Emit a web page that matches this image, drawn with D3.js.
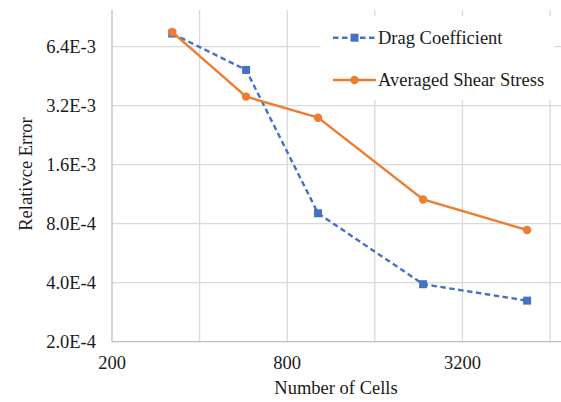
<!DOCTYPE html>
<html>
<head>
<meta charset="utf-8">
<script src="https://cdn.jsdelivr.net/npm/d3@7"></script>
<style>
  html, body { margin: 0; padding: 0; background: #fff; }
  svg { display: block; }
</style>
</head>
<body>
<svg id="chart" width="561" height="402"></svg>
<script>
// Mesh sizes (number of cells) and relative errors for each quantity
const cells = [322, 578, 1021, 2345, 5340];
const dragError = [7.47e-3, 4.87e-3, 9.04e-4, 3.93e-4, 3.24e-4];
const shearError = [7.6e-3, 3.56e-3, 2.78e-3, 1.063e-3, 7.43e-4];

const xGridValues = [200, 400, 800, 1600, 3200, 6400];
const xTickLabels = [200, 800, 3200];
const yTickValues = [2.0e-4, 4.0e-4, 8.0e-4, 1.6e-3, 3.2e-3, 6.4e-3];
const yTickLabels = ["2.0E-4", "4.0E-4", "8.0E-4", "1.6E-3", "3.2E-3", "6.4E-3"];

const seriesNames = ["Drag Coefficient", "Averaged Shear Stress"];
const colors = ["#4472C4", "#ED7D31"];

const FONT = "'Times New Roman', 'Liberation Serif', Tinos, 'Noto Serif', serif";
const FS = 18.5;
const TEXT = "#1a1a1a";
const plot = { left: 112, right: 561, top: 10, bottom: 341.7 };

const svg = d3.select("#chart")
  .attr("font-family", FONT)
  .attr("font-size", FS);

const x = d3.scaleLog().base(2).domain([200, 6400]).range([plot.left, 550]);
const y = d3.scaleLog().base(2).domain([2e-4, 6.4e-3]).range([plot.bottom, 46.7]);

function label(sel) {
  return sel.style("font-family", FONT).attr("font-size", FS).attr("fill", TEXT);
}

// Gridlines
const grid = svg.append("g").attr("stroke", "#D9D9D9").attr("stroke-width", 1.3);
grid.selectAll("line.v").data(xGridValues.slice(1)).join("line")
  .attr("x1", d => x(d)).attr("x2", d => x(d))
  .attr("y1", plot.top).attr("y2", plot.bottom);
grid.selectAll("line.h").data(yTickValues.slice(1)).join("line")
  .attr("x1", plot.left).attr("x2", plot.right)
  .attr("y1", d => y(d)).attr("y2", d => y(d));

// Axis lines
const axisG = svg.append("g").attr("stroke", "#BFBFBF").attr("stroke-width", 1.3);
axisG.append("line").attr("x1", plot.left).attr("x2", plot.left).attr("y1", plot.top).attr("y2", plot.bottom);
axisG.append("line").attr("x1", plot.left).attr("x2", plot.right).attr("y1", plot.bottom).attr("y2", plot.bottom);

// Tick labels
svg.append("g").selectAll("text").data(yTickValues).join("text")
  .attr("x", 96).attr("y", d => y(d)).attr("dy", "0.35em")
  .attr("text-anchor", "end").call(label)
  .text((d, i) => yTickLabels[i]);

svg.append("g").selectAll("text").data(xTickLabels).join("text")
  .attr("x", d => x(d)).attr("y", 369)
  .attr("text-anchor", "middle").call(label)
  .text(d => d);

// Axis titles
svg.append("text").attr("x", 336).attr("y", 394).attr("text-anchor", "middle")
  .call(label).text("Number of Cells");
svg.append("text").attr("transform", "translate(32,174) rotate(-90)")
  .attr("text-anchor", "middle").call(label)
  .text("Relativce Error");

// Series
const series = [dragError, shearError];
const line = d3.line().x(d => x(d[0])).y(d => y(d[1]));

series.forEach((vals, s) => {
  const pts = cells.map((c, i) => [c, vals[i]]);
  svg.append("path").datum(pts)
    .attr("d", line).attr("fill", "none")
    .attr("stroke", colors[s]).attr("stroke-width", 2.4)
    .attr("stroke-dasharray", s === 0 ? "5.5,3.5" : null);
  if (s === 0) {
    svg.append("g").selectAll("rect").data(pts).join("rect")
      .attr("x", d => x(d[0]) - 4).attr("y", d => y(d[1]) - 4)
      .attr("width", 8).attr("height", 8).attr("fill", colors[s]);
  } else {
    svg.append("g").selectAll("circle").data(pts).join("circle")
      .attr("cx", d => x(d[0])).attr("cy", d => y(d[1]))
      .attr("r", 4.2).attr("fill", colors[s]);
  }
});

// Legend
const legend = svg.append("g");
legend.append("rect").attr("x", 320).attr("y", 16).attr("width", 234).attr("height", 84).attr("fill", "#fff");
const legendY = [37.7, 80];
seriesNames.forEach((name, s) => {
  const g = legend.append("g");
  g.append("line").attr("x1", 333).attr("x2", 376).attr("y1", legendY[s]).attr("y2", legendY[s])
    .attr("stroke", colors[s]).attr("stroke-width", 2.4)
    .attr("stroke-dasharray", s === 0 ? "5.5,3.5" : null);
  if (s === 0) {
    g.append("rect").attr("x", 354.5 - 4).attr("y", legendY[s] - 4).attr("width", 8).attr("height", 8).attr("fill", colors[s]);
  } else {
    g.append("circle").attr("cx", 354.5).attr("cy", legendY[s]).attr("r", 4.2).attr("fill", colors[s]);
  }
  g.append("text").attr("x", 378).attr("y", legendY[s]).attr("dy", "0.35em")
    .call(label).text(name);
});
</script>
</body>
</html>
